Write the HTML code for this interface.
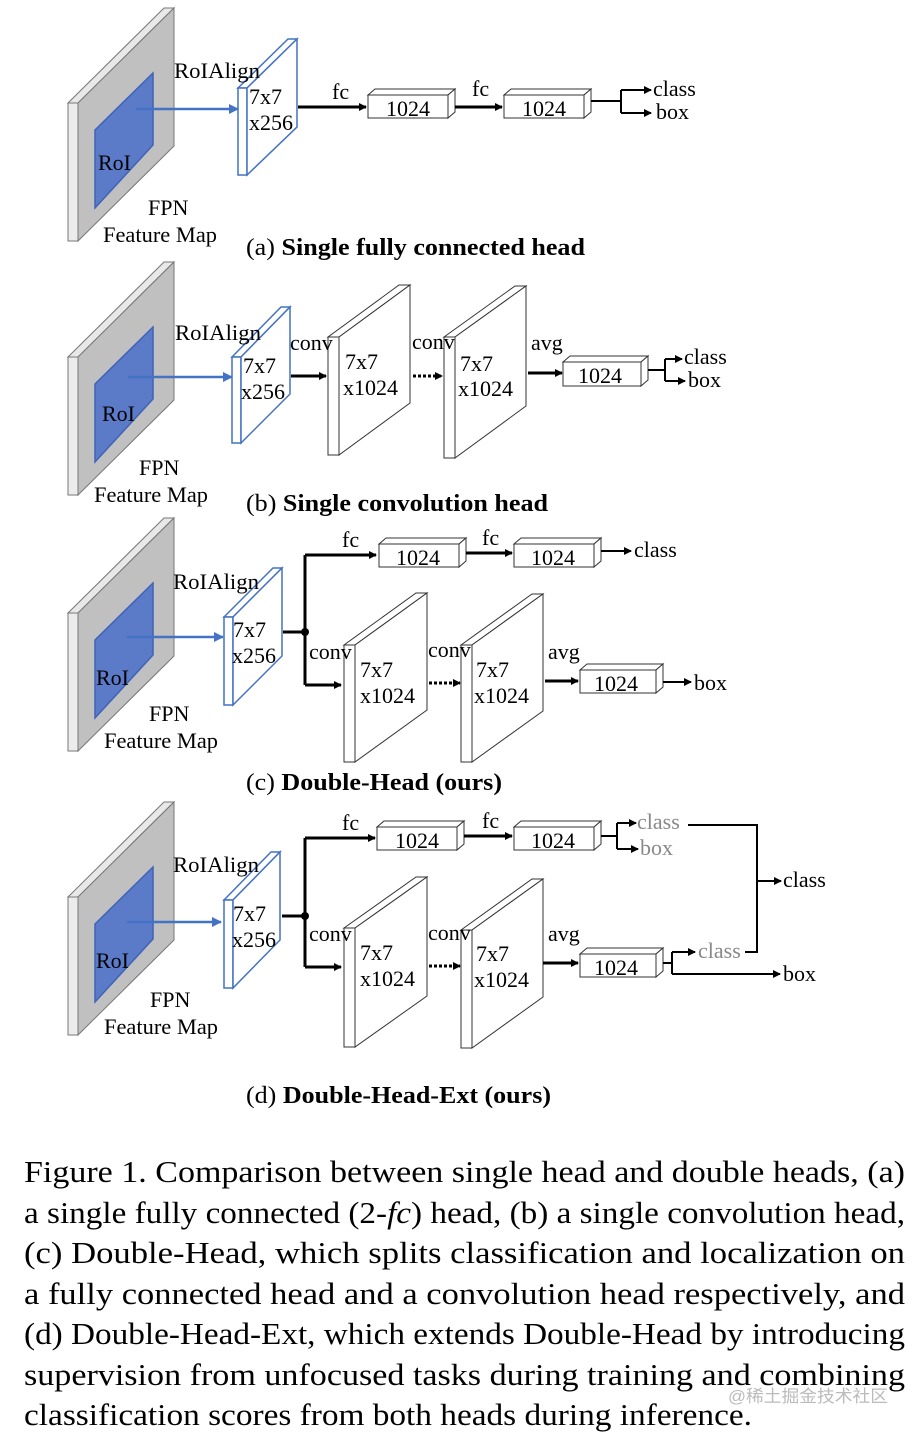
<!DOCTYPE html>
<html><head><meta charset="utf-8"><style>
html,body{margin:0;padding:0;background:#fff;}
svg{display:block;}
text{font-family:"Liberation Serif",serif;fill:#000;}
</style></head><body>
<svg width="917" height="1436" viewBox="0 0 917 1436" xmlns="http://www.w3.org/2000/svg">
<defs>
<marker id="ah" markerWidth="8" markerHeight="8" refX="7" refY="4" orient="auto" markerUnits="userSpaceOnUse"><path d="M0,0 L8,4 L0,8 z" fill="#000"/></marker>
<marker id="ab" markerWidth="10" markerHeight="10" refX="9" refY="5" orient="auto" markerUnits="userSpaceOnUse"><path d="M0,0 L10,5 L0,10 z" fill="#4472c4"/></marker>
<g id="fmap">
<polygon points="68,103 164,8 174,8 78,103" fill="#e8e8e8" stroke="#777" stroke-width="1"/>
<rect x="68" y="103" width="10" height="138" fill="#ececec" stroke="#777" stroke-width="1"/>
<polygon points="78,103 174,8 174,146 78,241" fill="#c0c0c0" stroke="#777" stroke-width="1"/>
<polygon points="95,130 153,73 153,145 95,208" fill="#5b7bc9" stroke="#3e63b8" stroke-width="1.5"/>
</g>
</defs>
<g font-size="22">
<!-- ===== (a) ===== -->
<use href="#fmap"/>
<polygon points="238,88 288,39 297,39 247,88" fill="#fff" stroke="#4472c4" stroke-width="1.5"/>
<rect x="238" y="88" width="9" height="87" fill="#fff" stroke="#4472c4" stroke-width="1.5"/>
<polygon points="247,88 297,39 297,127 247,175" fill="#fff" stroke="#4472c4" stroke-width="1.5"/>
<line x1="136" y1="109" x2="238" y2="109" stroke="#4472c4" stroke-width="2.5" marker-end="url(#ab)"/>
<text x="174" y="78" textLength="86" lengthAdjust="spacingAndGlyphs">RoIAlign</text>
<text x="249" y="104">7x7</text>
<text x="249" y="130">x256</text>
<text x="98" y="170">RoI</text>
<text x="148" y="215">FPN</text>
<text x="103" y="242" textLength="114" lengthAdjust="spacingAndGlyphs">Feature Map</text>
<line x1="298" y1="107" x2="366" y2="107" stroke="#000" stroke-width="3" marker-end="url(#ah)"/>
<text x="332" y="99">fc</text>
<polygon points="368,95 375,89 455,89 448,95" fill="#fff" stroke="#333"/>
<polygon points="448,95 455,89 455,112 448,118" fill="#fff" stroke="#333"/>
<rect x="368" y="95" width="80" height="23" fill="#fff" stroke="#333"/>
<text x="408" y="116" text-anchor="middle">1024</text>
<line x1="455" y1="107" x2="502" y2="107" stroke="#000" stroke-width="3" marker-end="url(#ah)"/>
<text x="472" y="96">fc</text>
<polygon points="504,95 511,89 591,89 584,95" fill="#fff" stroke="#333"/>
<polygon points="584,95 591,89 591,112 584,118" fill="#fff" stroke="#333"/>
<rect x="504" y="95" width="80" height="23" fill="#fff" stroke="#333"/>
<text x="544" y="116" text-anchor="middle">1024</text>
<path d="M591,101 H621 M621,90 V113" stroke="#000" stroke-width="2" fill="none"/>
<line x1="621" y1="90" x2="651" y2="90" stroke="#000" stroke-width="2" marker-end="url(#ah)"/>
<line x1="621" y1="113" x2="651" y2="113" stroke="#000" stroke-width="2" marker-end="url(#ah)"/>
<text x="653" y="96">class</text>
<text x="656" y="119">box</text>
<text x="246" y="255" font-size="24" textLength="339" lengthAdjust="spacingAndGlyphs">(a) <tspan font-weight="bold">Single fully connected head</tspan></text>

<!-- ===== (b) ===== -->
<use href="#fmap" transform="translate(0,254)"/>
<polygon points="232,357 281,307 290,307 241,357" fill="#fff" stroke="#4472c4" stroke-width="1.5"/>
<rect x="232" y="357" width="9" height="86" fill="#fff" stroke="#4472c4" stroke-width="1.5"/>
<polygon points="241,357 290,307 290,394 241,443" fill="#fff" stroke="#4472c4" stroke-width="1.5"/>
<line x1="128" y1="377" x2="232" y2="377" stroke="#4472c4" stroke-width="2.5" marker-end="url(#ab)"/>
<polygon points="328,337 399,285 410,285 339,337" fill="#fff" stroke="#333"/>
<rect x="328" y="337" width="11" height="118" fill="#fff" stroke="#333"/>
<polygon points="339,337 410,285 410,403 339,455" fill="#fff" stroke="#333"/>
<polygon points="444,337 515,286 526,286 455,337" fill="#fff" stroke="#333"/>
<rect x="444" y="337" width="11" height="121" fill="#fff" stroke="#333"/>
<polygon points="455,337 526,286 526,406 455,458" fill="#fff" stroke="#333"/>
<text x="175" y="340" textLength="86" lengthAdjust="spacingAndGlyphs">RoIAlign</text>
<text x="243" y="373">7x7</text>
<text x="241" y="399">x256</text>
<text x="102" y="421">RoI</text>
<text x="139" y="475">FPN</text>
<text x="94" y="502" textLength="114" lengthAdjust="spacingAndGlyphs">Feature Map</text>
<line x1="291" y1="376" x2="326" y2="376" stroke="#000" stroke-width="3" marker-end="url(#ah)"/>
<text x="290" y="350">conv</text>
<text x="345" y="369">7x7</text>
<text x="343" y="395">x1024</text>
<line x1="413" y1="376" x2="442" y2="376" stroke="#000" stroke-width="3" stroke-dasharray="3,2" marker-end="url(#ah)"/>
<text x="412" y="349">conv</text>
<text x="460" y="371">7x7</text>
<text x="458" y="396">x1024</text>
<line x1="528" y1="373" x2="562" y2="373" stroke="#000" stroke-width="3" marker-end="url(#ah)"/>
<text x="531" y="350">avg</text>
<polygon points="563,362 570,356 648,356 641,362" fill="#fff" stroke="#333"/>
<polygon points="641,362 648,356 648,380 641,386" fill="#fff" stroke="#333"/>
<rect x="563" y="362" width="78" height="24" fill="#fff" stroke="#333"/>
<text x="600" y="383" text-anchor="middle">1024</text>
<path d="M648,370 H665 M665,359 V381" stroke="#000" stroke-width="2" fill="none"/>
<line x1="665" y1="359" x2="682" y2="359" stroke="#000" stroke-width="2" marker-end="url(#ah)"/>
<line x1="665" y1="381" x2="685" y2="381" stroke="#000" stroke-width="2" marker-end="url(#ah)"/>
<text x="684" y="364">class</text>
<text x="688" y="387">box</text>
<text x="246" y="511" font-size="24" textLength="302" lengthAdjust="spacingAndGlyphs">(b) <tspan font-weight="bold">Single convolution head</tspan></text>

<!-- ===== (c) ===== -->
<use href="#fmap" transform="translate(0,510)"/>
<polygon points="224,617 273,568 282,568 233,617" fill="#fff" stroke="#4472c4" stroke-width="1.5"/>
<rect x="224" y="617" width="9" height="88" fill="#fff" stroke="#4472c4" stroke-width="1.5"/>
<polygon points="233,617 282,568 282,656 233,705" fill="#fff" stroke="#4472c4" stroke-width="1.5"/>
<line x1="127" y1="637" x2="223" y2="637" stroke="#4472c4" stroke-width="2.5" marker-end="url(#ab)"/>
<polygon points="344,645 416,593 427,593 355,645" fill="#fff" stroke="#333"/>
<rect x="344" y="645" width="11" height="117" fill="#fff" stroke="#333"/>
<polygon points="355,645 427,593 427,710 355,762" fill="#fff" stroke="#333"/>
<polygon points="461,645 532,594 543,594 472,645" fill="#fff" stroke="#333"/>
<rect x="461" y="645" width="11" height="117" fill="#fff" stroke="#333"/>
<polygon points="472,645 543,594 543,711 472,762" fill="#fff" stroke="#333"/>
<text x="173" y="589" textLength="86" lengthAdjust="spacingAndGlyphs">RoIAlign</text>
<text x="233" y="637">7x7</text>
<text x="232" y="663">x256</text>
<text x="96" y="685">RoI</text>
<text x="149" y="721">FPN</text>
<text x="104" y="748" textLength="114" lengthAdjust="spacingAndGlyphs">Feature Map</text>
<path d="M283,632 H305 M305,555 V685" stroke="#000" stroke-width="3" fill="none"/>
<circle cx="305" cy="632" r="4" fill="#000"/>
<line x1="305" y1="555" x2="376" y2="555" stroke="#000" stroke-width="3" marker-end="url(#ah)"/>
<text x="342" y="547">fc</text>
<polygon points="379,544 386,538 466,538 459,544" fill="#fff" stroke="#333"/>
<polygon points="459,544 466,538 466,561 459,567" fill="#fff" stroke="#333"/>
<rect x="379" y="544" width="80" height="23" fill="#fff" stroke="#333"/>
<text x="418" y="565" text-anchor="middle">1024</text>
<line x1="466" y1="553" x2="512" y2="553" stroke="#000" stroke-width="3" marker-end="url(#ah)"/>
<text x="482" y="545">fc</text>
<polygon points="514,544 521,538 601,538 594,544" fill="#fff" stroke="#333"/>
<polygon points="594,544 601,538 601,561 594,567" fill="#fff" stroke="#333"/>
<rect x="514" y="544" width="80" height="23" fill="#fff" stroke="#333"/>
<text x="553" y="565" text-anchor="middle">1024</text>
<line x1="601" y1="551" x2="631" y2="551" stroke="#000" stroke-width="2" marker-end="url(#ah)"/>
<text x="634" y="557">class</text>
<line x1="305" y1="685" x2="341" y2="685" stroke="#000" stroke-width="3" marker-end="url(#ah)"/>
<text x="309" y="659">conv</text>
<text x="360" y="677">7x7</text>
<text x="360" y="703">x1024</text>
<line x1="429" y1="683" x2="460" y2="683" stroke="#000" stroke-width="3" stroke-dasharray="3,2" marker-end="url(#ah)"/>
<text x="428" y="657">conv</text>
<text x="476" y="677">7x7</text>
<text x="474" y="703">x1024</text>
<line x1="545" y1="681" x2="578" y2="681" stroke="#000" stroke-width="3" marker-end="url(#ah)"/>
<text x="548" y="659">avg</text>
<polygon points="580,670 587,664 663,664 656,670" fill="#fff" stroke="#333"/>
<polygon points="656,670 663,664 663,687 656,693" fill="#fff" stroke="#333"/>
<rect x="580" y="670" width="76" height="23" fill="#fff" stroke="#333"/>
<text x="616" y="691" text-anchor="middle">1024</text>
<line x1="663" y1="682" x2="691" y2="682" stroke="#000" stroke-width="2" marker-end="url(#ah)"/>
<text x="694" y="690">box</text>
<text x="246" y="790" font-size="24" textLength="256" lengthAdjust="spacingAndGlyphs">(c) <tspan font-weight="bold">Double-Head (ours)</tspan></text>

<!-- ===== (d) ===== -->
<use href="#fmap" transform="translate(0,794)"/>
<polygon points="224,900 271,852 280,852 233,900" fill="#fff" stroke="#4472c4" stroke-width="1.5"/>
<rect x="224" y="900" width="9" height="88" fill="#fff" stroke="#4472c4" stroke-width="1.5"/>
<polygon points="233,900 280,852 280,940 233,988" fill="#fff" stroke="#4472c4" stroke-width="1.5"/>
<line x1="127" y1="922" x2="221" y2="922" stroke="#4472c4" stroke-width="2.5" marker-end="url(#ab)"/>
<polygon points="344,928 416,877 427,877 355,928" fill="#fff" stroke="#333"/>
<rect x="344" y="928" width="11" height="119" fill="#fff" stroke="#333"/>
<polygon points="355,928 427,877 427,996 355,1047" fill="#fff" stroke="#333"/>
<polygon points="461,930 532,879 543,879 472,930" fill="#fff" stroke="#333"/>
<rect x="461" y="930" width="11" height="118" fill="#fff" stroke="#333"/>
<polygon points="472,930 543,879 543,997 472,1048" fill="#fff" stroke="#333"/>
<text x="173" y="872" textLength="86" lengthAdjust="spacingAndGlyphs">RoIAlign</text>
<text x="233" y="921">7x7</text>
<text x="232" y="947">x256</text>
<text x="96" y="968">RoI</text>
<text x="150" y="1007">FPN</text>
<text x="104" y="1034" textLength="114" lengthAdjust="spacingAndGlyphs">Feature Map</text>
<path d="M282,916 H305 M305,838 V967" stroke="#000" stroke-width="3" fill="none"/>
<circle cx="305" cy="916" r="4" fill="#000"/>
<line x1="305" y1="838" x2="375" y2="838" stroke="#000" stroke-width="3" marker-end="url(#ah)"/>
<text x="342" y="830">fc</text>
<polygon points="377,827 384,821 464,821 457,827" fill="#fff" stroke="#333"/>
<polygon points="457,827 464,821 464,844 457,850" fill="#fff" stroke="#333"/>
<rect x="377" y="827" width="80" height="23" fill="#fff" stroke="#333"/>
<text x="417" y="848" text-anchor="middle">1024</text>
<line x1="464" y1="836" x2="512" y2="836" stroke="#000" stroke-width="3" marker-end="url(#ah)"/>
<text x="482" y="828">fc</text>
<polygon points="514,827 521,821 601,821 594,827" fill="#fff" stroke="#333"/>
<polygon points="594,827 601,821 601,844 594,850" fill="#fff" stroke="#333"/>
<rect x="514" y="827" width="80" height="23" fill="#fff" stroke="#333"/>
<text x="553" y="848" text-anchor="middle">1024</text>
<path d="M601,836 H617 M617,823 V849" stroke="#000" stroke-width="2" fill="none"/>
<line x1="617" y1="823" x2="636" y2="823" stroke="#000" stroke-width="2" marker-end="url(#ah)"/>
<line x1="617" y1="849" x2="638" y2="849" stroke="#000" stroke-width="2" marker-end="url(#ah)"/>
<text x="637" y="829" style="fill:#888">class</text>
<text x="640" y="855" style="fill:#888">box</text>
<path d="M688,825 H757 V952 H745" stroke="#000" stroke-width="2" fill="none"/>
<line x1="757" y1="881" x2="781" y2="881" stroke="#000" stroke-width="2" marker-end="url(#ah)"/>
<text x="783" y="887">class</text>
<line x1="305" y1="967" x2="341" y2="967" stroke="#000" stroke-width="3" marker-end="url(#ah)"/>
<text x="309" y="941">conv</text>
<text x="360" y="960">7x7</text>
<text x="360" y="986">x1024</text>
<line x1="429" y1="966" x2="460" y2="966" stroke="#000" stroke-width="3" stroke-dasharray="3,2" marker-end="url(#ah)"/>
<text x="428" y="940">conv</text>
<text x="476" y="961">7x7</text>
<text x="474" y="987">x1024</text>
<line x1="543" y1="963" x2="578" y2="963" stroke="#000" stroke-width="3" marker-end="url(#ah)"/>
<text x="548" y="941">avg</text>
<polygon points="580,954 587,948 663,948 656,954" fill="#fff" stroke="#333"/>
<polygon points="656,954 663,948 663,971 656,977" fill="#fff" stroke="#333"/>
<rect x="580" y="954" width="76" height="23" fill="#fff" stroke="#333"/>
<text x="616" y="975" text-anchor="middle">1024</text>
<path d="M663,963 H672 M672,952 V974" stroke="#000" stroke-width="2" fill="none"/>
<line x1="672" y1="952" x2="695" y2="952" stroke="#000" stroke-width="2" marker-end="url(#ah)"/>
<line x1="672" y1="974" x2="780" y2="974" stroke="#000" stroke-width="2" marker-end="url(#ah)"/>
<text x="698" y="958" style="fill:#888">class</text>
<text x="783" y="981">box</text>
<text x="246" y="1103" font-size="24" textLength="305" lengthAdjust="spacingAndGlyphs">(d) <tspan font-weight="bold">Double-Head-Ext (ours)</tspan></text>
</g>
<!-- ===== caption ===== -->
<g font-size="31">
<text x="24" y="1182" textLength="881" lengthAdjust="spacingAndGlyphs">Figure 1. Comparison between single head and double heads, (a)</text>
<text x="24" y="1223" textLength="881" lengthAdjust="spacingAndGlyphs">a single fully connected (2-<tspan font-style="italic">fc</tspan>) head, (b) a single convolution head,</text>
<text x="24" y="1263" textLength="881" lengthAdjust="spacingAndGlyphs">(c) Double-Head, which splits classification and localization on</text>
<text x="24" y="1304" textLength="881" lengthAdjust="spacingAndGlyphs">a fully connected head and a convolution head respectively, and</text>
<text x="24" y="1344" textLength="881" lengthAdjust="spacingAndGlyphs">(d) Double-Head-Ext, which extends Double-Head by introducing</text>
<text x="24" y="1385" textLength="881" lengthAdjust="spacingAndGlyphs">supervision from unfocused tasks during training and combining</text>
<text x="24" y="1425" textLength="728" lengthAdjust="spacingAndGlyphs">classification scores from both heads during inference.</text>
</g>
<text x="728" y="1402" font-size="17" style="fill:#bbb;font-family:'Liberation Sans','Noto Sans CJK SC',sans-serif" textLength="160" lengthAdjust="spacingAndGlyphs">@稀土掘金技术社区</text>
</svg>
</body></html>
